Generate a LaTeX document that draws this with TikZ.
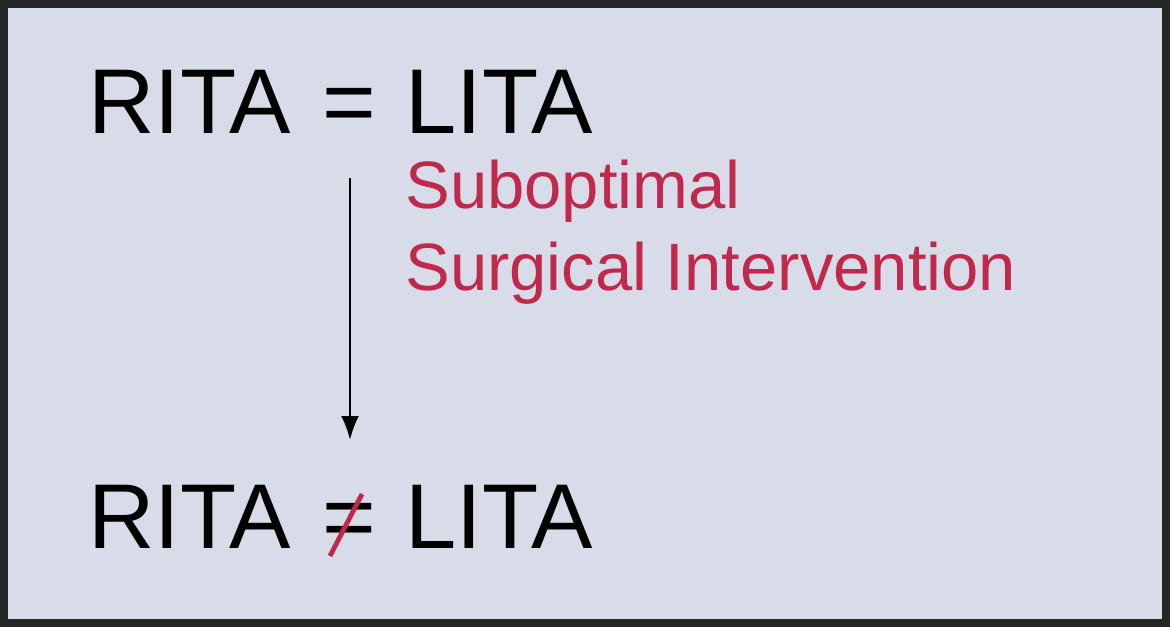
\documentclass[tikz,border=0pt]{standalone}
\usetikzlibrary{arrows.meta}
\usepackage{fontspec}
\setmainfont{Liberation Sans}
\definecolor{bg}{HTML}{D8DCE9}
\definecolor{rd}{HTML}{C0284C}
\begin{document}
\begin{tikzpicture}[x=0.5pt,y=-0.5pt,
  big/.style={anchor=base west,inner sep=0,font=\fontsize{46}{50}\selectfont},
  lab/.style={anchor=base west,inner sep=0,align=left,text=rd,font=\fontsize{33.5}{41}\selectfont}]
\useasboundingbox (0,0) rectangle (1170,627);
\draw[fill=bg,line width=4pt,draw=black!85] (4,4) rectangle (1166,623);
\node[big] (tl) at (88,133) {RITA};
\node[big] (teq) at (322,133) {=};
\node[big] (tr) at (405,133) {LITA};
\node[big] (bl) at (88,548) {RITA};
\node[big] (eq) at (322,548) {=};
\node[big] (br) at (405,548) {LITA};
\draw[rd,line width=2.4pt] (330,556) -- (362,494);
\coordinate (a1) at (350,178);
\coordinate (a2) at (350,440);
\draw[line width=1.3pt,-{Latex[length=12pt,width=9pt]}] (a1) -- (a2);
\node[lab] (t) at (405,290) {Suboptimal\\Surgical Intervention};
\end{tikzpicture}
\end{document}
